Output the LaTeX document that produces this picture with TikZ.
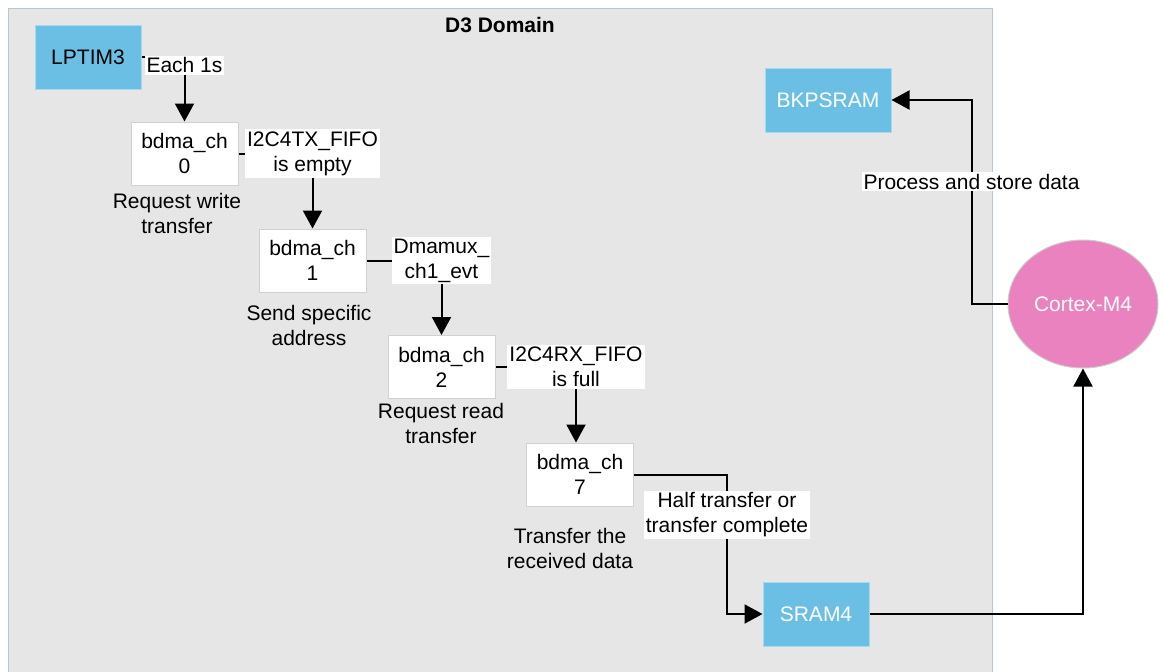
\documentclass[tikz,border=0pt]{standalone}
\usepackage{fontspec}
\setmainfont{Liberation Sans}
\usetikzlibrary{arrows.meta,shapes.geometric}
\definecolor{domgray}{HTML}{E6E6E6}
\definecolor{domline}{HTML}{B4C6DC}
\definecolor{memblue}{HTML}{6CBFE4}
\definecolor{cpupink}{HTML}{E982BE}

\begin{document}
\begin{tikzpicture}[x=0.5pt, y=-0.5pt, >={Triangle[length=9pt,width=9.5pt]}, font=\fontsize{10.5}{12.5}\selectfont, chan node/.style={rectangle, draw=black!18, fill=white, line width=0.5pt, minimum width=53.5pt, minimum height=31.5pt, align=center, inner sep=0pt}, mem node/.style={rectangle, draw=memblue!60!white, fill=memblue, line width=0.5pt, minimum height=32pt, inner sep=0pt}, cpu node/.style={ellipse, draw=black!20, fill=cpupink, line width=0.5pt, minimum width=75pt, minimum height=64pt, inner sep=0pt, text=white}, label node/.style={fill=white, align=center, inner sep=1pt}, note/.style={align=center, inner sep=0pt}, link/.style={->, line width=1pt}]
	\useasboundingbox (0,0) rectangle (1163,671);
	\draw[domline, fill=domgray, line width=0.5pt] (8,8) rectangle (992,700);
	\node[font=\fontsize{10.5}{12.5}\selectfont\bfseries] (D3) at (500,25) {D3 Domain};
	\node[mem node, minimum width=53pt] (LP) at (88,57) {LPTIM3};
	\node[chan node] (C0) at (184.5,153.5) {bdma\_ch\\0};
	\node[chan node] (C1) at (312.5,260.5) {bdma\_ch\\1};
	\node[chan node] (C2) at (441.5,367) {bdma\_ch\\2};
	\node[chan node] (C7) at (580,474.5) {bdma\_ch\\7};
	\node[mem node, minimum width=53pt, text=white] (SR) at (816,614) {SRAM4};
	\node[mem node, minimum width=63pt, text=white] (BK) at (828,100) {BKPSRAM};
	\node[cpu node] (M4) at (1083,304) {Cortex-M4};
	\node[note] (T0) at (177,213) {Request write\\transfer};
	\node[note] (T1) at (309,325) {Send specific\\address};
	\node[note] (T2) at (441,423) {Request read\\transfer};
	\node[note] (T7) at (570,548) {Transfer the\\received data};
	\draw[link] (LP.east) -| node[label node, anchor=north, yshift=1.2pt, midway] {Each 1s} (C0.north);
	\draw[link] (C0.east) -| node[label node, midway] {I2C4TX\_FIFO\\is empty} (C1.north);
	\draw[link] (C1.east) -| node[label node, midway] {Dmamux\_\\ch1\_evt} (C2.north);
	\draw[link] (C2.east) -| node[label node, midway] {I2C4RX\_FIFO\\is full} ([xshift=-2pt]C7.north);
	\draw[link] (C7.east) -- ++(93,0) |- node[label node, pos=0.145] {Half transfer or\\transfer complete} (SR.west);
	\draw[link] (SR.east) -| (M4.south);
	\draw[link] (M4.west) -- ++(-36,0) |- node[label node, pos=0.3] {Process and store data} (BK.east);
\end{tikzpicture}
\end{document}
